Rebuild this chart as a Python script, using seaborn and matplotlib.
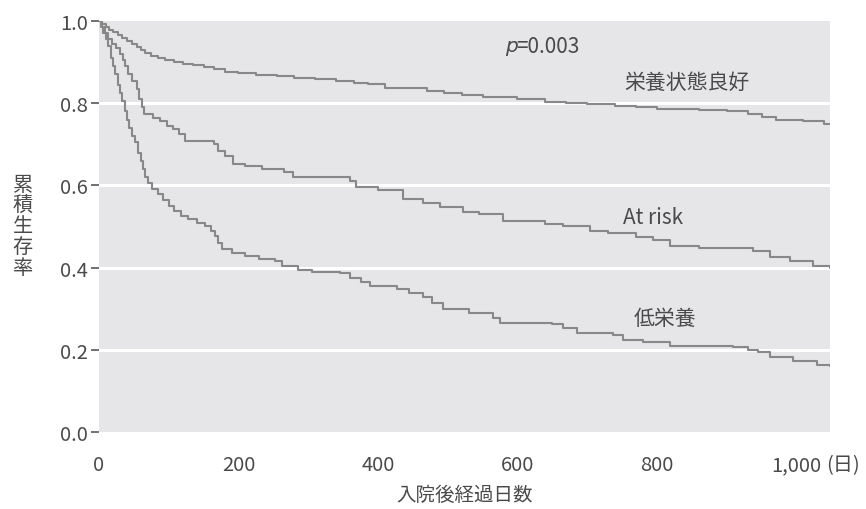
import matplotlib
matplotlib.use("Agg")
import matplotlib.pyplot as plt
import pandas as pd
import seaborn as sns

# survival curves (days, cumulative survival)
good_days = [0, 5, 10, 15, 20, 27, 33, 40, 47, 54, 60, 66, 75, 85, 95, 108, 120, 135, 150,
             165, 180, 200, 225, 255, 280, 310, 340, 365, 385, 410, 430, 470, 495, 520, 550,
             600, 640, 670, 700, 740, 770, 800, 860, 900, 930, 950, 970, 1010, 1040, 1048]
good_surv = [1.0, 0.993, 0.986, 0.979, 0.972, 0.965, 0.958, 0.951, 0.944, 0.937, 0.93, 0.922,
             0.915, 0.91, 0.905, 0.90, 0.896, 0.892, 0.887, 0.882, 0.877, 0.873, 0.869, 0.866,
             0.861, 0.859, 0.855, 0.85, 0.846, 0.838, 0.836, 0.83, 0.824, 0.82, 0.814, 0.81,
             0.803, 0.80, 0.797, 0.794, 0.79, 0.786, 0.784, 0.78, 0.774, 0.766, 0.758, 0.756,
             0.75, 0.75]

risk_days = [0, 4, 8, 13, 18, 24, 30, 34, 38, 42, 48, 54, 58, 62, 65, 78, 88, 98, 106, 115,
             123, 165, 171, 180, 192, 210, 234, 265, 278, 360, 368, 400, 436, 465, 489, 522,
             545, 579, 640, 665, 704, 730, 770, 794, 819, 860, 938, 962, 991, 1024, 1048]
risk_surv = [1.0, 0.985, 0.97, 0.955, 0.945, 0.935, 0.92, 0.905, 0.89, 0.87, 0.855, 0.835,
             0.81, 0.79, 0.773, 0.765, 0.756, 0.745, 0.737, 0.725, 0.708, 0.70, 0.683, 0.672,
             0.653, 0.648, 0.64, 0.632, 0.62, 0.61, 0.597, 0.588, 0.568, 0.558, 0.548, 0.536,
             0.53, 0.514, 0.507, 0.50, 0.49, 0.484, 0.475, 0.466, 0.452, 0.448, 0.44, 0.426,
             0.416, 0.403, 0.40]

low_days = [0, 3, 6, 10, 13, 17, 20, 23, 27, 30, 33, 37, 40, 43, 47, 52, 56, 60, 63, 66, 70,
            76, 85, 92, 100, 108, 118, 128, 140, 152, 160, 166, 171, 176, 190, 209, 230, 252,
            262, 285, 305, 346, 360, 375, 389, 427, 445, 465, 478, 493, 530, 565, 575, 650,
            665, 685, 737, 751, 780, 819, 880, 909, 930, 945, 962, 995, 1029, 1048]
low_surv = [1.0, 0.985, 0.97, 0.955, 0.94, 0.91, 0.89, 0.87, 0.845, 0.825, 0.805, 0.78, 0.76,
            0.74, 0.72, 0.705, 0.68, 0.66, 0.64, 0.62, 0.605, 0.59, 0.578, 0.565, 0.55, 0.538,
            0.525, 0.517, 0.508, 0.50, 0.488, 0.476, 0.46, 0.445, 0.435, 0.428, 0.42, 0.415,
            0.403, 0.395, 0.39, 0.386, 0.375, 0.365, 0.355, 0.347, 0.338, 0.328, 0.315, 0.30,
            0.29, 0.278, 0.266, 0.262, 0.252, 0.242, 0.237, 0.225, 0.218, 0.21, 0.21, 0.208,
            0.20, 0.195, 0.182, 0.172, 0.163, 0.16]

groups = ["栄養状態良好", "At risk", "低栄養"]
x_ticks = [0, 200, 400, 600, 800, 1000]
x_tick_labels = ["0", "200", "400", "600", "800", "1,000"]
y_ticks = [0.0, 0.2, 0.4, 0.6, 0.8, 1.0]
p_text = "=0.003"

frames = []
for g, d, s in zip(groups, [good_days, risk_days, low_days], [good_surv, risk_surv, low_surv]):
    frames.append(pd.DataFrame({"day": d, "surv": s, "group": g}))
df = pd.concat(frames, ignore_index=True)

sns.set_style("white", {"axes.facecolor": "#e6e6e9"})
plt.rcParams["font.family"] = ["Noto Sans CJK JP", "DejaVu Sans"]

text_col = "#4a4a4a"
line_col = "#888888"

fig = plt.figure(figsize=(8.66, 5.10), dpi=100)
ax = fig.add_axes([0.1143, 0.151, 0.8441, 0.8059])

for yv in [0.2, 0.4, 0.6, 0.8]:
    ax.axhline(yv, color="white", lw=2.2, zorder=1)

sns.lineplot(data=df, x="day", y="surv", hue="group", estimator=None, sort=False,
             palette=[line_col] * 3, lw=1.5, drawstyle="steps-post", legend=False,
             ax=ax, zorder=3)

ax.set_xlim(0, 1048)
ax.set_ylim(0, 1.0)
sns.despine(ax=ax, left=True, bottom=True)

ax.set_xticks(x_ticks)
ax.set_xticklabels(x_tick_labels)
ax.set_yticks(y_ticks)
ax.set_yticklabels([f"{v:.1f}" for v in y_ticks])
ax.tick_params(axis="x", length=0, pad=16, labelsize=14.5, labelcolor=text_col)
ax.tick_params(axis="y", length=6, width=1.1, color=text_col, pad=2,
               labelsize=14.5, labelcolor=text_col, left=True)

ax.annotate("(日)", xy=(1000, 0), xycoords=("data", "axes fraction"),
            xytext=(21, -16), textcoords="offset points", ha="left", va="top",
            fontsize=14.5, color=text_col)

ax.set_xlabel("入院後経過日数", fontsize=14, color=text_col, labelpad=6)
ax.set_ylabel("")
fig.text(0.026, 0.555, "累\n積\n生\n存\n率", fontsize=14.5, color=text_col,
         ha="center", va="center", linespacing=0.98)

ax.text(582, 0.94, "p", family="DejaVu Sans", style="italic", fontsize=14.5,
        color=text_col, ha="left", va="center")
ax.text(598, 0.94, p_text, fontsize=15, color=text_col, ha="left", va="center")
ax.text(843, 0.851, groups[0], fontsize=15, color=text_col, ha="center", va="center")
ax.text(795, 0.522, groups[1], fontsize=15, color=text_col, ha="center", va="center")
ax.text(811, 0.278, groups[2], fontsize=15, color=text_col, ha="center", va="center")

fig.savefig("out.png", dpi=100)
